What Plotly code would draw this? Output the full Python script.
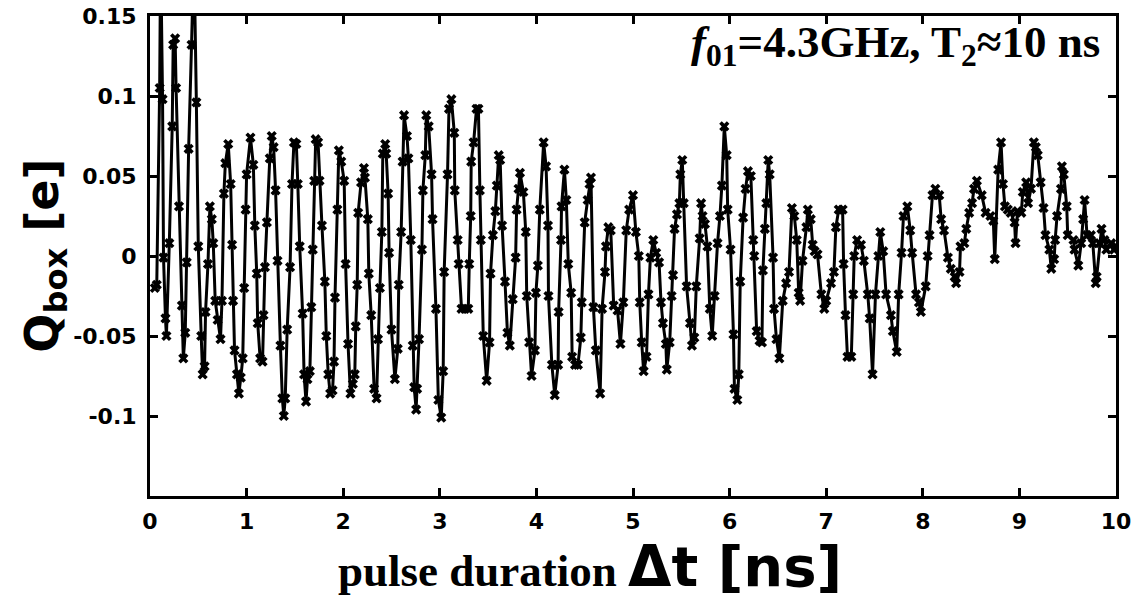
import plotly.graph_objects as go

# ---- data (time in ns, charge in e) ----
tA = [0.05, 0.07, 0.10, 0.11, 0.13, 0.14, 0.16, 0.17, 0.20, 0.23, 0.24, 0.26, 0.27, 0.30, 0.33, 0.345, 0.365, 0.38, 0.40, 0.43,
      0.455, 0.48, 0.50, 0.53, 0.545, 0.565, 0.575, 0.60, 0.62, 0.64, 0.655, 0.675, 0.70, 0.73, 0.745, 0.765, 0.78, 0.81, 0.835, 0.85,
      0.86, 0.875, 0.90, 0.92, 0.94, 0.96, 0.975, 0.99]
qA = [-0.020, -0.018, 0.105, 0.190, 0.098, -0.001, -0.039, -0.050, 0.008, 0.081, 0.132, 0.136, 0.105, 0.031, -0.031, -0.064, -0.048, -0.004, 0.067, 0.132,
      0.190, 0.096, 0.006, -0.050, -0.074, -0.069, -0.035, -0.005, 0.031, 0.023, 0.008, -0.028, -0.040, -0.052, -0.028, 0.039, 0.058, 0.070, 0.045, 0.007,
      -0.028, -0.059, -0.074, -0.086, -0.076, -0.064, -0.020, 0.029]

tB = [1.00, 1.04, 1.07, 1.085, 1.105, 1.115, 1.14, 1.165, 1.175, 1.19, 1.21, 1.24, 1.26, 1.28, 1.30, 1.32, 1.35, 1.37, 1.385, 1.40,
      1.42, 1.45, 1.47, 1.49, 1.515, 1.53, 1.55, 1.58, 1.595, 1.615, 1.63, 1.655, 1.67, 1.685, 1.70, 1.715, 1.74, 1.755, 1.78, 1.81,
      1.825, 1.845, 1.865, 1.89, 1.905, 1.915, 1.94, 1.955, 1.98]
qB = [0.051, 0.074, 0.057, 0.019, -0.011, -0.042, -0.064, -0.066, -0.037, -0.007, 0.021, 0.061, 0.075, 0.068, 0.041, -0.003, -0.056, -0.089, -0.100, -0.089,
      -0.046, -0.007, 0.045, 0.071, 0.070, 0.045, 0.006, -0.036, -0.074, -0.091, -0.077, -0.072, -0.032, 0.004, 0.047, 0.073, 0.071, 0.047, 0.019, -0.016,
      -0.050, -0.074, -0.086, -0.084, -0.066, -0.026, 0.029, 0.066, 0.059]

tC = [2.01, 2.025, 2.05, 2.075, 2.10, 2.12, 2.13, 2.145, 2.155, 2.185, 2.215, 2.225, 2.255, 2.265, 2.29, 2.32, 2.345, 2.36, 2.38, 2.40,
      2.41, 2.435, 2.445, 2.465, 2.475, 2.50, 2.535, 2.565, 2.575, 2.60, 2.615, 2.63, 2.66, 2.675, 2.70, 2.72, 2.735, 2.755, 2.765, 2.785,
      2.815, 2.825, 2.85, 2.86, 2.885, 2.915, 2.925, 2.96, 2.985]
qC = [0.047, -0.005, -0.055, -0.086, -0.080, -0.074, -0.044, -0.018, 0.027, 0.046, 0.055, 0.049, 0.023, -0.011, -0.037, -0.083, -0.089, -0.052, -0.020, 0.015,
      0.064, 0.070, 0.064, 0.039, 0.002, -0.046, -0.077, -0.058, -0.018, 0.015, 0.059, 0.088, 0.075, 0.061, 0.010, -0.056, -0.082, -0.096, -0.083, -0.052,
      0.004, 0.041, 0.063, 0.088, 0.081, 0.051, 0.023, -0.033, -0.090]

tD = [3.015, 3.035, 3.045, 3.08, 3.095, 3.12, 3.15, 3.155, 3.185, 3.195, 3.225, 3.26, 3.295, 3.305, 3.32, 3.325, 3.35, 3.38, 3.40, 3.415,
      3.425, 3.45, 3.485, 3.515, 3.525, 3.55, 3.575, 3.59, 3.61, 3.625, 3.645, 3.675, 3.70, 3.725, 3.755, 3.785, 3.795, 3.815, 3.83, 3.865,
      3.89, 3.90, 3.925, 3.95, 3.985, 3.995]
qD = [-0.101, -0.072, -0.010, 0.051, 0.092, 0.098, 0.077, 0.041, 0.010, -0.005, -0.033, -0.033, -0.033, -0.005, 0.025, 0.059, 0.071, 0.092, 0.092, 0.041,
      0.010, -0.050, -0.078, -0.054, -0.011, 0.013, 0.028, 0.044, 0.063, 0.060, 0.019, -0.016, -0.048, -0.056, -0.027, -0.001, 0.029, 0.042, 0.052, 0.040,
      0.015, -0.025, -0.054, -0.075, -0.059, -0.023]

tE = [4.015, 4.035, 4.075, 4.10, 4.12, 4.125, 4.16, 4.19, 4.225, 4.23, 4.255, 4.26, 4.29, 4.31, 4.33, 4.36, 4.37, 4.40, 4.43, 4.46,
      4.47, 4.50, 4.53, 4.55, 4.565, 4.59, 4.615, 4.66, 4.68, 4.71, 4.72, 4.745, 4.77, 4.80, 4.84, 4.87, 4.90, 4.93, 4.96, 5.00]
qE = [-0.006, 0.029, 0.071, 0.056, 0.019, -0.025, -0.068, -0.087, -0.068, -0.035, 0.010, 0.031, 0.054, 0.035, -0.005, -0.023, -0.063, -0.068, -0.068, -0.051,
      -0.029, 0.021, 0.035, 0.045, 0.049, -0.032, -0.059, -0.086, -0.033, -0.010, 0.006, 0.018, 0.016, -0.031, -0.034, -0.055, -0.029, 0.016, 0.029, 0.038]

tF = [5.03, 5.06, 5.07, 5.09, 5.11, 5.14, 5.16, 5.18, 5.21, 5.24, 5.27, 5.29, 5.31, 5.34, 5.35, 5.38, 5.40, 5.415, 5.43, 5.455,
      5.48, 5.49, 5.51, 5.525, 5.555, 5.59, 5.61, 5.635, 5.655, 5.69, 5.705, 5.72, 5.745, 5.77, 5.795, 5.82, 5.845, 5.875, 5.90, 5.92,
      5.945, 5.97, 5.98]
qF = [0.015, 0.000, -0.029, -0.054, -0.072, -0.063, -0.024, -0.001, 0.010, 0.002, -0.004, -0.029, -0.042, -0.055, -0.071, -0.054, -0.025, -0.012, 0.017, 0.026,
      0.033, 0.051, 0.060, 0.033, -0.019, -0.042, -0.056, -0.051, -0.019, 0.011, 0.033, 0.025, 0.020, 0.006, -0.033, -0.050, -0.025, 0.008, 0.025, 0.044,
      0.081, 0.063, 0.029]

tG = [6.01, 6.04, 6.05, 6.08, 6.095, 6.11, 6.14, 6.165, 6.19, 6.22, 6.245, 6.255, 6.28, 6.31, 6.335, 6.345, 6.365, 6.38, 6.40, 6.415,
      6.45, 6.46, 6.485, 6.515, 6.55, 6.585, 6.615, 6.645, 6.67, 6.695, 6.715, 6.73, 6.755, 6.795, 6.81, 6.84, 6.86, 6.88, 6.91, 6.95,
      6.98]
qG = [0.004, -0.049, -0.083, -0.090, -0.074, -0.016, 0.024, 0.042, 0.053, 0.050, 0.010, 0.000, -0.047, -0.053, -0.054, -0.009, 0.017, 0.033, 0.060, 0.051,
      -0.001, -0.033, -0.052, -0.064, -0.028, -0.017, -0.010, 0.030, 0.025, 0.010, -0.023, -0.028, -0.003, 0.018, 0.029, 0.023, 0.007, 0.003, 0.001, -0.024,
      -0.033]

tH = [7.00, 7.05, 7.08, 7.10, 7.13, 7.17, 7.18, 7.20, 7.22, 7.26, 7.28, 7.29, 7.32, 7.36, 7.39, 7.43, 7.45, 7.48, 7.51, 7.54,
      7.56, 7.59, 7.62, 7.67, 7.69, 7.73, 7.75, 7.78, 7.80, 7.84, 7.87, 7.89, 7.93, 7.96, 7.98]
qH = [-0.028, -0.017, -0.010, 0.018, 0.029, 0.029, -0.005, -0.037, -0.063, -0.063, -0.024, 0.000, 0.010, 0.007, -0.003, -0.024, -0.039, -0.074, -0.024, 0.000,
      0.015, 0.003, -0.024, -0.037, -0.047, -0.060, -0.024, 0.002, 0.025, 0.031, 0.016, 0.002, -0.024, -0.029, -0.035]

tI = [8.03, 8.05, 8.07, 8.10, 8.13, 8.17, 8.19, 8.22, 8.26, 8.29, 8.33, 8.345, 8.38, 8.39, 8.43, 8.45, 8.48, 8.51, 8.53, 8.56,
      8.61, 8.65, 8.70, 8.73, 8.745, 8.78, 8.81, 8.83, 8.85, 8.88, 8.91, 8.95, 8.96, 8.98]
qI = [-0.019, 0.000, 0.013, 0.038, 0.042, 0.038, 0.023, 0.016, -0.001, -0.008, -0.013, -0.017, -0.010, 0.006, 0.008, 0.017, 0.027, 0.033, 0.042, 0.047,
      0.038, 0.027, 0.025, 0.022, -0.002, 0.054, 0.071, 0.045, 0.031, 0.029, 0.027, 0.021, 0.008, 0.028]

tJ = [9.02, 9.035, 9.07, 9.09, 9.12, 9.15, 9.17, 9.19, 9.22, 9.25, 9.27, 9.31, 9.33, 9.36, 9.37, 9.39, 9.43, 9.44, 9.46, 9.49,
      9.50, 9.56, 9.57, 9.61, 9.64, 9.66, 9.675, 9.70, 9.74, 9.76, 9.79, 9.80, 9.83, 9.85, 9.88, 9.90, 9.95, 9.98, 10.0]
qJ = [0.027, 0.040, 0.046, 0.033, 0.042, 0.071, 0.068, 0.063, 0.046, 0.030, 0.013, 0.004, -0.008, -0.002, 0.010, 0.025, 0.042, 0.056, 0.051, 0.031,
      0.013, 0.010, 0.004, -0.006, 0.008, 0.023, 0.035, 0.013, 0.013, 0.008, -0.017, -0.013, 0.008, 0.017, 0.010, 0.004, 0.008, 0.004, 0.006]

x_ticks = [0, 1, 2, 3, 4, 5, 6, 7, 8, 9, 10]
y_ticks = [-0.1, -0.05, 0, 0.05, 0.1, 0.15]
y_ticktext = ["-0.1", "-0.05", "0", "0.05", "0.1", "0.15"]

t = tA + tB + tC + tD + tE + tF + tG + tH + tI + tJ
q = qA + qB + qC + qD + qE + qF + qG + qH + qI + qJ

fig = go.Figure()
fig.add_trace(go.Scatter(
    x=t, y=q, mode="lines+markers",
    line=dict(color="black", width=3),
    marker=dict(symbol="x", size=9, color="black"),
    cliponaxis=True, showlegend=False,
))

tickfont = dict(family="DejaVu Sans", size=22, color="black", weight="bold")
axis_common = dict(showline=True, linewidth=3, linecolor="black", mirror="ticks",
                   ticks="inside", ticklen=8, tickwidth=2.5, tickcolor="black",
                   showgrid=False, zeroline=False, tickfont=tickfont, automargin=False)

fig.update_xaxes(range=[0, 10], tickvals=x_ticks, ticklabelstandoff=4, **axis_common)
fig.update_yaxes(range=[-0.15, 0.15], tickvals=y_ticks, ticktext=y_ticktext, ticklabelstandoff=6, **axis_common)

fig.update_layout(
    width=1132, height=601,
    margin=dict(l=150, r=16, t=16, b=105),
    paper_bgcolor="white", plot_bgcolor="white",
    annotations=[
        dict(text="<b><i>f</i><sub>01</sub>=4.3GHz, T<sub>2</sub>≈10 ns</b>",
             xref="paper", yref="paper", x=0.986, y=0.94, xanchor="right", yanchor="middle",
             showarrow=False, font=dict(family="Liberation Serif", size=45, color="black")),
        dict(text="<b><span style=\"font-family:'Liberation Serif'\">pulse duration </span>"
                  "<span style=\"font-family:'DejaVu Sans';font-size:56px\">Δt [ns]</span></b>",
             xref="paper", yref="paper", x=0.456, y=-0.146, xanchor="center", yanchor="middle",
             showarrow=False, font=dict(family="Liberation Serif", size=45, color="black")),
        dict(text="<b>Q<sub>box</sub> [e]</b>",
             xref="paper", yref="paper", x=-0.109, y=0.5, xanchor="center", yanchor="middle",
             textangle=-90, showarrow=False,
             font=dict(family="DejaVu Sans", size=46, color="black")),
    ],
)

fig.write_html("out.html")
